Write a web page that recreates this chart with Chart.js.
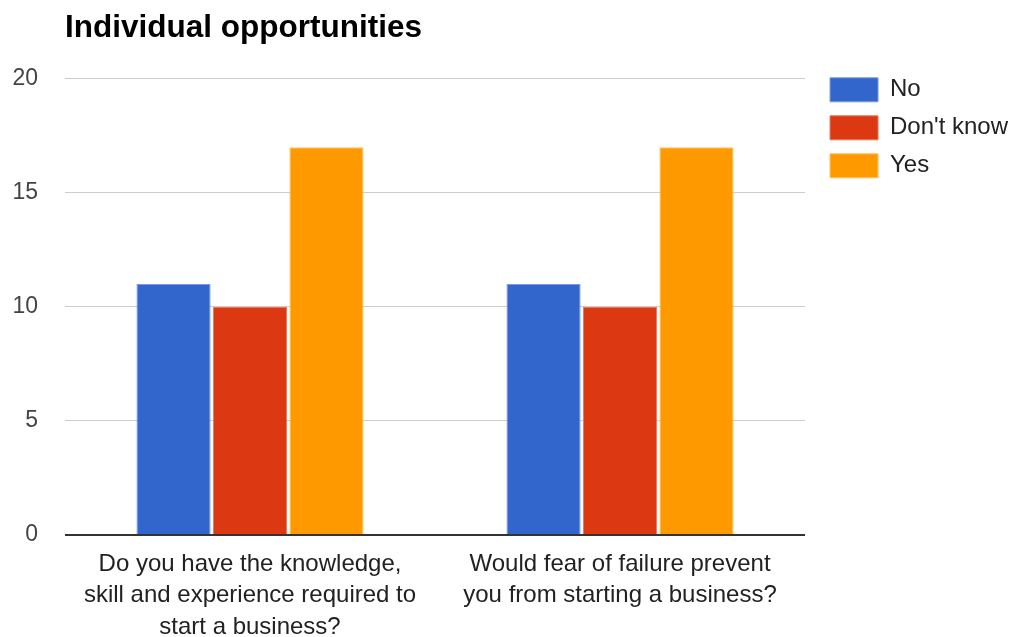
<!DOCTYPE html>
<html>
<head>
<meta charset="utf-8">
<script src="https://cdn.jsdelivr.net/npm/chart.js@4"></script>
<style>
  html, body { margin: 0; padding: 0; background: #fff; }
  #wrap { width: 1013px; height: 637px; }
</style>
</head>
<body>
<div id="wrap"><canvas id="myChart"></canvas></div>
<script>
const questions = [
    ['Do you have the knowledge,', 'skill and experience required to', 'start a business?'],
    ['Would fear of failure prevent', 'you from starting a business?']
]
const answers = ['No', "Don't know", 'Yes']
const noCounts = [11, 11]
const dontKnowCounts = [10, 10]
const yesCounts = [17, 17]
const yTicks = [0, 5, 10, 15, 20]

const fontFamily = '"Liberation Sans", Arial, sans-serif'

// move the legend up to the top gridline and a bit away from the plot
const legendNudge = {
    id: 'legendNudge',
    afterLayout(chart) {
        const lg = chart.legend
        lg.left += 11
        lg.right += 11
        lg.top -= 15
        lg.bottom -= 15
    }
}

const ctx = document.getElementById('myChart')

const myChart = new Chart(ctx, {
    type: 'bar',
    data: {
        labels: questions,
        datasets: [{
            label: answers[0],
            data: noCounts,
            backgroundColor: '#3366cc',
            borderColor: '#7b9be0',
        }, {
            label: answers[1],
            data: dontKnowCounts,
            backgroundColor: '#dc3912',
            borderColor: '#e8775a',
        }, {
            label: answers[2],
            data: yesCounts,
            backgroundColor: '#ff9900',
            borderColor: '#ffc060',
        }]
    },
    plugins: [legendNudge],
    options: {
        responsive: true,
        maintainAspectRatio: false,
        animation: false,
        layout: { padding: { right: 6 } },
        datasets: {
            bar: {
                borderWidth: 1,
                categoryPercentage: 0.62,
                barPercentage: 0.97,
            }
        },
        scales: {
            x: {
                grid: { display: false, drawTicks: false },
                border: { display: false },
                ticks: {
                    color: '#222',
                    padding: 14,
                    maxRotation: 0,
                    font: { family: fontFamily, size: 24, lineHeight: 1.3 },
                },
                afterFit: (scale) => { scale.height = 102 },
            },
            y: {
                min: 0,
                max: 20,
                afterBuildTicks: (scale) => { scale.ticks = yTicks.map(v => ({ value: v })) },
                grid: {
                    drawTicks: false,
                    color: (c) => c.tick && c.tick.value === 0 ? '#333' : '#ccc',
                    lineWidth: (c) => c.tick && c.tick.value === 0 ? 2 : 1,
                },
                border: { display: false },
                ticks: {
                    color: '#444',
                    padding: 27,
                    font: { family: fontFamily, size: 23 },
                },
                afterFit: (scale) => { scale.width = 65 },
            }
        },
        plugins: {
            title: {
                display: true,
                text: 'Individual opportunities',
                align: 'start',
                fullSize: false,
                color: '#000',
                font: { family: fontFamily, size: 31.5, weight: 'bold', lineHeight: 1.2 },
                padding: { top: 9, bottom: 32 },
            },
            legend: {
                display: true,
                position: 'right',
                align: 'start',
                fullSize: false,
                labels: {
                    boxWidth: 48,
                    boxHeight: 24,
                    padding: 14,
                    color: '#222',
                    font: { family: fontFamily, size: 24 },
                },
            },
            tooltip: { enabled: false },
        }
    },
})
</script>
</body>
</html>
